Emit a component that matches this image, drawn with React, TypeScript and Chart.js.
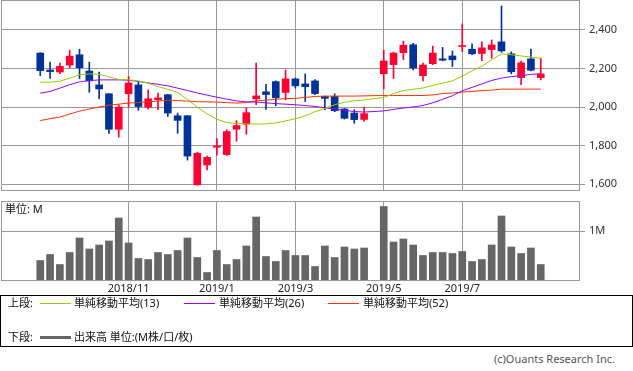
import React, { useEffect, useRef } from "react";
import { Chart, registerables } from "chart.js";

Chart.register(...registerables);

const FONT = '"Noto Sans", "Noto Sans CJK JP", sans-serif';

// x axis: weekly slots
const AXIS_START = "2018-08-06";
const AXIS_END = "2019-09-23";
const monthTicks = ["2018-11-05", "2019-01-07", "2019-03-04", "2019-05-06", "2019-07-01"];
const monthLabels = ["2018/11", "2019/1", "2019/3", "2019/5", "2019/7"];
const priceTicks = [1600, 1800, 2000, 2200, 2400];
const volumeTicks = [1];
const volumeTickLabels = ["1M"];

// week start dates (week of 2019-04-29 had no trading)
const weeks = [
  "2018-09-03", "2018-09-10", "2018-09-17", "2018-09-24",
  "2018-10-01", "2018-10-08", "2018-10-15", "2018-10-22", "2018-10-29",
  "2018-11-05", "2018-11-12", "2018-11-19", "2018-11-26",
  "2018-12-03", "2018-12-10", "2018-12-17", "2018-12-24", "2018-12-31",
  "2019-01-07", "2019-01-14", "2019-01-21", "2019-01-28",
  "2019-02-04", "2019-02-11", "2019-02-18", "2019-02-25",
  "2019-03-04", "2019-03-11", "2019-03-18", "2019-03-25",
  "2019-04-01", "2019-04-08", "2019-04-15", "2019-04-22",
  "2019-05-06", "2019-05-13", "2019-05-20", "2019-05-27",
  "2019-06-03", "2019-06-10", "2019-06-17", "2019-06-24",
  "2019-07-01", "2019-07-08", "2019-07-15", "2019-07-22", "2019-07-29",
  "2019-08-05", "2019-08-12", "2019-08-19", "2019-08-26",
];

const opens = [
  2280, 2192, 2182, 2218, 2271, 2187, 2115, 2069, 1885, 2069, 2115, 2000, 2038, 2064, 1955, 1955, 1597,
  1700, 1792, 1754, 1885, 1911, 2043, 2079, 2132, 2076, 2146, 2120, 2136, 2055, 2055, 1990, 1969, 1936,
  2173, 2220, 2282, 2323, 2163, 2225, 2250, 2265, 2314, 2300, 2278, 2298, 2338, 2276, 2153, 2250, 2153,
];
const highs = [
  2282, 2233, 2228, 2295, 2300, 2233, 2182, 2070, 2012, 2158, 2132, 2089, 2072, 2066, 1969, 1957, 1765,
  1746, 1837, 1883, 1930, 1997, 2228, 2118, 2136, 2192, 2150, 2172, 2143, 2057, 2069, 1993, 1986, 2000,
  2295, 2285, 2342, 2330, 2228, 2316, 2309, 2291, 2431, 2328, 2338, 2348, 2524, 2286, 2238, 2300, 2253,
];
const lows = [
  2163, 2148, 2173, 2204, 2148, 2076, 2043, 1864, 1844, 2000, 1983, 1990, 1986, 1952, 1864, 1725, 1595,
  1674, 1751, 1749, 1823, 1859, 2012, 1988, 2007, 2038, 2098, 2029, 2064, 1986, 1976, 1938, 1916, 1926,
  2094, 2148, 2246, 2192, 2136, 2220, 2240, 2210, 2288, 2271, 2241, 2253, 2284, 2172, 2116, 2188, 2141,
];
const closes = [
  2189, 2184, 2211, 2264, 2204, 2136, 2094, 1885, 2000, 2125, 2003, 2043, 2048, 1969, 1931, 1746, 1761,
  1739, 1799, 1873, 1904, 1971, 2058, 2065, 2048, 2146, 2110, 2106, 2070, 2045, 1981, 1942, 1935, 1966,
  2239, 2280, 2321, 2203, 2218, 2280, 2243, 2245, 2319, 2276, 2307, 2322, 2291, 2183, 2229, 2191, 2172,
];

const sma13 = [
  2129, 2129, 2134, 2150, 2167, 2172, 2170, 2157, 2143, 2141, 2136, 2124, 2106, 2092, 2076, 2040, 2000,
  1965, 1937, 1920, 1915, 1913, 1912, 1913, 1918, 1928, 1940, 1955, 1976, 1993, 2012, 2025, 2033, 2037,
  2050, 2070, 2086, 2092, 2099, 2112, 2124, 2136, 2160, 2188, 2212, 2245, 2276, 2271, 2265, 2259, 2253,
];
const sma26 = [
  2072, 2081, 2098, 2116, 2131, 2137, 2141, 2141, 2141, 2139, 2133, 2125, 2118, 2110, 2098, 2086, 2073,
  2062, 2051, 2041, 2032, 2027, 2026, 2022, 2018, 2015, 2012, 2008, 2003, 1996, 1990, 1983, 1977, 1974,
  1980, 1988, 1995, 2001, 2008, 2022, 2040, 2059, 2084, 2102, 2120, 2138, 2150, 2158, 2162, 2170, 2172,
];
const sma52 = [
  1930, 1940, 1948, 1964, 1979, 1990, 2000, 2010, 2015, 2021, 2024, 2027, 2031, 2035, 2034, 2031, 2028,
  2027, 2026, 2023, 2021, 2023, 2032, 2036, 2040, 2044, 2045, 2050, 2055, 2057, 2057, 2057, 2057, 2058,
  2060, 2060, 2060, 2060, 2060, 2063, 2070, 2073, 2078, 2081, 2085, 2088, 2093, 2093, 2093, 2093, 2093,
];

// volume, millions
const volumes = [
  0.41, 0.53, 0.33, 0.57, 0.86, 0.64, 0.72, 0.80, 1.26, 0.76, 0.45, 0.43, 0.57, 0.53, 0.61, 0.86, 0.47,
  0.17, 0.61, 0.33, 0.43, 0.70, 1.28, 0.49, 0.39, 0.61, 0.51, 0.51, 0.29, 0.70, 0.47, 0.68, 0.64, 0.66,
  1.49, 0.78, 0.84, 0.72, 0.51, 0.57, 0.57, 0.55, 0.59, 0.39, 0.43, 0.72, 1.30, 0.68, 0.55, 0.66, 0.33,
];

const UP = "#ff0033";
const DOWN = "#003399";
const GRID = "#999999";

const WEEK_MS = 7 * 86400000;
const weekPos = (d: string) => Math.round((Date.parse(d) - Date.parse(AXIS_START)) / WEEK_MS);

const framePlugin = {
  id: "frame",
  afterDatasetsDraw(chart: any) {
    const { ctx, chartArea } = chart;
    const { left, top, right, bottom } = chartArea;
    ctx.save();
    ctx.strokeStyle = GRID;
    ctx.lineWidth = 1;
    ctx.strokeRect(left + 0.5, top + 0.5, right - left - 1, bottom - top - 1);
    ctx.restore();
  },
};

export default function App() {
  const priceRef = useRef<HTMLCanvasElement | null>(null);
  const volRef = useRef<HTMLCanvasElement | null>(null);

  useEffect(() => {
    Chart.defaults.font.family = FONT;
    Chart.defaults.color = "#333";
    const xs = weeks.map(weekPos);
    const colors = opens.map((o, i) => (closes[i] >= o ? UP : DOWN));
    const xMin = weekPos(AXIS_START);
    const xMax = weekPos(AXIS_END);

    const monthTickValues = monthTicks.map(weekPos);

    const priceChart = new Chart(priceRef.current as HTMLCanvasElement, {
      type: "bar",
      data: {
        datasets: [
          {
            type: "line",
            label: "SMA13",
            data: xs.map((x, i) => ({ x, y: sma13[i] })),
            borderColor: "#99cc00",
            borderWidth: 1,
            pointRadius: 0,
            tension: 0,
            order: 0,
          } as any,
          {
            type: "line",
            label: "SMA26",
            data: xs.map((x, i) => ({ x, y: sma26[i] })),
            borderColor: "#9900ff",
            borderWidth: 1,
            pointRadius: 0,
            tension: 0,
            order: 0,
          } as any,
          {
            type: "line",
            label: "SMA52",
            data: xs.map((x, i) => ({ x, y: sma52[i] })),
            borderColor: "#ff3300",
            borderWidth: 1,
            pointRadius: 0,
            tension: 0,
            order: 0,
          } as any,
          {
            type: "bar",
            label: "body",
            data: xs.map((x, i) => ({ x, y: [opens[i], closes[i]] })),
            backgroundColor: colors,
            barThickness: 7,
            grouped: false,
            minBarLength: 1,
            order: 1,
          } as any,
          {
            type: "bar",
            label: "wick",
            data: xs.map((x, i) => ({ x, y: [lows[i], highs[i]] })),
            backgroundColor: colors,
            barThickness: 1,
            grouped: false,
            order: 2,
          } as any,
        ],
      },
      options: {
        responsive: false,
        animation: false,
        devicePixelRatio: 1,
        layout: { padding: { left: 1, top: 0, right: 0, bottom: 4 } },
        plugins: { legend: { display: false }, tooltip: { enabled: false } },
        scales: {
          x: {
            type: "linear",
            min: xMin,
            max: xMax,
            offset: false,
            grid: { color: GRID, drawTicks: false, offset: false },
            border: { display: false },
            ticks: { display: false },
            afterBuildTicks: (s: any) => {
              s.ticks = monthTickValues.map((v) => ({ value: v }));
            },
            afterFit: (s: any) => {
              s.height = 0;
              s.paddingLeft = 0;
              s.paddingRight = 0;
            },
          },
          y: {
            type: "linear",
            position: "right",
            min: 1565,
            max: 2555,
            grid: { color: GRID, tickLength: 5 },
            border: { display: false },
            ticks: {
              font: { size: 11, family: FONT },
              color: "#333",
              padding: 4,
              callback: (v: any) => Number(v).toLocaleString("en-US"),
            },
            afterBuildTicks: (s: any) => {
              s.ticks = priceTicks.map((v) => ({ value: v }));
            },
            afterFit: (s: any) => {
              s.width = 53;
              s.paddingTop = 0;
              s.paddingBottom = 0;
            },
          },
        },
      } as any,
      plugins: [framePlugin],
    });

    const volChart = new Chart(volRef.current as HTMLCanvasElement, {
      type: "bar",
      data: {
        datasets: [
          {
            label: "volume",
            data: xs.map((x, i) => ({ x, y: volumes[i] })),
            backgroundColor: "#666666",
            barThickness: 7,
            grouped: false,
          } as any,
        ],
      },
      options: {
        responsive: false,
        animation: false,
        devicePixelRatio: 1,
        layout: { padding: { left: 1, top: 6, right: 0, bottom: 0 } },
        plugins: { legend: { display: false }, tooltip: { enabled: false } },
        scales: {
          x: {
            type: "linear",
            min: xMin,
            max: xMax,
            offset: false,
            grid: { color: GRID, drawTicks: false, offset: false },
            border: { display: false },
            ticks: {
              autoSkip: false,
              maxRotation: 0,
              minRotation: 0,
              padding: 1,
              font: { size: 11, family: FONT },
              color: "#222",
              callback: (v: any) => {
                const k = monthTickValues.indexOf(Number(v));
                return k >= 0 ? monthLabels[k] : "";
              },
            },
            afterBuildTicks: (s: any) => {
              s.ticks = monthTickValues.map((v) => ({ value: v }));
            },
            afterFit: (s: any) => {
              s.height = 19;
              s.paddingLeft = 0;
              s.paddingRight = 0;
            },
          },
          y: {
            type: "linear",
            position: "right",
            min: 0,
            max: 1.6,
            grid: { color: GRID, tickLength: 5 },
            border: { display: false },
            ticks: {
              font: { size: 11, family: FONT },
              color: "#333",
              padding: 4,
              callback: (v: any) => {
                const k = volumeTicks.indexOf(Number(v));
                return k >= 0 ? volumeTickLabels[k] : "";
              },
            },
            afterBuildTicks: (s: any) => {
              s.ticks = volumeTicks.map((v) => ({ value: v }));
            },
            afterFit: (s: any) => {
              s.width = 53;
              s.paddingTop = 0;
              s.paddingBottom = 0;
            },
          },
        },
      } as any,
      plugins: [framePlugin],
    });

    return () => {
      priceChart.destroy();
      volChart.destroy();
    };
  }, []);

  const text: React.CSSProperties = {
    position: "absolute",
    fontSize: 11,
    lineHeight: "12px",
    whiteSpace: "nowrap",
    color: "#111",
    fontFamily: FONT,
  };
  const line = (left: number, top: number, color: string, h: number): React.CSSProperties => ({
    position: "absolute",
    left,
    top,
    width: 31,
    height: h,
    background: color,
  });

  return (
    <div
      style={{
        position: "absolute",
        left: 0,
        top: 0,
        width: 633,
        height: 371,
        background: "#fff",
        overflow: "hidden",
        fontFamily: FONT,
      }}
    >
      <canvas ref={priceRef} width={633} height={195} style={{ position: "absolute", left: 0, top: 0 }} />
      <canvas ref={volRef} width={633} height={105} style={{ position: "absolute", left: 0, top: 195 }} />
      <div style={{ ...text, left: 5, top: 203 }}>単位: M</div>

      <div
        style={{
          position: "absolute",
          left: 0,
          top: 295,
          width: 633,
          height: 52,
          border: "1px solid #000",
          boxSizing: "border-box",
        }}
      />
      <div style={{ ...text, left: 8, top: 297 }}>上段:</div>
      <div style={line(40, 303, "#99cc00", 1)} />
      <div style={{ ...text, left: 74, top: 297 }}>単純移動平均(13)</div>
      <div style={line(184, 303, "#9900ff", 1)} />
      <div style={{ ...text, left: 219, top: 297 }}>単純移動平均(26)</div>
      <div style={line(328, 303, "#ff3300", 1)} />
      <div style={{ ...text, left: 363, top: 297 }}>単純移動平均(52)</div>

      <div style={{ ...text, left: 8, top: 331 }}>下段:</div>
      <div style={line(40, 336, "#666666", 3)} />
      <div style={{ ...text, left: 74, top: 331 }}>出来高 単位:(M株/口/枚)</div>

      <div style={{ ...text, right: 18, top: 353, color: "#555" }}>(c)Ouants Research Inc.</div>
    </div>
  );
}
